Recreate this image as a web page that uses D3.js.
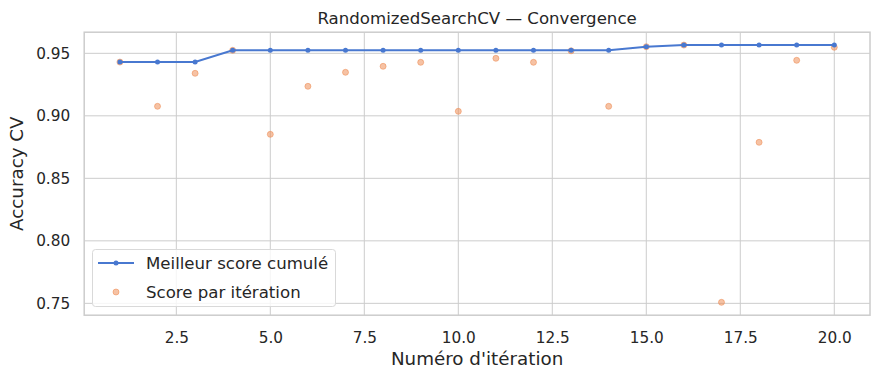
<!DOCTYPE html>
<html>
<head>
<meta charset="utf-8">
<script src="https://cdn.jsdelivr.net/npm/d3@7"></script>
<style>
  html, body { margin: 0; padding: 0; background: #fff; }
  svg { display: block; }
  text { font-family: "DejaVu Sans", sans-serif; fill: #262626; }
</style>
</head>
<body>
<svg id="chart" width="880" height="380"></svg>
<script>
const iterations = [1,2,3,4,5,6,7,8,9,10,11,12,13,14,15,16,17,18,19,20];
const iterScores = [0.943,0.9076,0.934,0.9524,0.8852,0.9236,0.9348,0.9396,0.9428,0.9036,
                    0.946,0.9428,0.952,0.9076,0.9553,0.9566,0.7508,0.8788,0.9444,0.9548];
const bestScores = [0.943,0.943,0.943,0.9524,0.9524,0.9524,0.9524,0.9524,0.9524,0.9524,
                    0.9524,0.9524,0.9524,0.9524,0.9553,0.9566,0.9566,0.9566,0.9566,0.9566];
const xTicks = [2.5,5.0,7.5,10.0,12.5,15.0,17.5,20.0];
const yTicks = [0.75,0.80,0.85,0.90,0.95];
const titleText = "RandomizedSearchCV — Convergence";
const xLabel = "Numéro d'itération";
const yLabel = "Accuracy CV";
const legendLabels = ["Meilleur score cumulé", "Score par itération"];

const svg = d3.select("#chart");
const L = 84.2, R = 870, T = 32.2, B = 315.2;
const blue = "#4878d0", orange = "#ee854a", grid = "#cccccc";

const xMin = d3.min(iterations), xMax = d3.max(iterations);
const xPad = (xMax - xMin) * 0.05;
const x = d3.scaleLinear().domain([xMin - xPad, xMax + xPad]).range([L, R]);
const allY = iterScores.concat(bestScores);
const yMin = d3.min(allY), yMax = d3.max(allY);
const yPad = (yMax - yMin) * 0.05;
const y = d3.scaleLinear().domain([yMin - yPad, yMax + yPad]).range([B, T]);

// grid
const g = svg.append("g");
g.selectAll(".vg").data(xTicks).enter().append("line")
  .attr("x1", d => x(d)).attr("x2", d => x(d)).attr("y1", T).attr("y2", B)
  .attr("stroke", grid).attr("stroke-width", 1);
g.selectAll(".hg").data(yTicks).enter().append("line")
  .attr("y1", d => y(d)).attr("y2", d => y(d)).attr("x1", L).attr("x2", R)
  .attr("stroke", grid).attr("stroke-width", 1);

// axes (labels only)
const xAxis = d3.axisBottom(x).tickValues(xTicks).tickFormat(d3.format(".1f")).tickSize(0).tickPadding(17);
const gx = svg.append("g").attr("transform", `translate(0,${B})`).call(xAxis);
gx.select(".domain").remove();
gx.selectAll("text").attr("font-size", "15.3px").attr("fill", "#262626")
  .attr("font-family", "DejaVu Sans, sans-serif");

const yAxis = d3.axisLeft(y).tickValues(yTicks).tickFormat(d3.format(".2f")).tickSize(0).tickPadding(14);
const gy = svg.append("g").attr("transform", `translate(${L},0)`).call(yAxis);
gy.select(".domain").remove();
gy.selectAll("text").attr("font-size", "15.3px").attr("fill", "#262626")
  .attr("font-family", "DejaVu Sans, sans-serif");

// frame
svg.append("rect").attr("x", L).attr("y", T).attr("width", R - L).attr("height", B - T)
  .attr("fill", "none").attr("stroke", grid).attr("stroke-width", 1.5);

// scatter
svg.append("g").selectAll("circle").data(iterations).enter().append("circle")
  .attr("cx", (d) => x(d)).attr("cy", (d, i) => y(iterScores[i])).attr("r", 3)
  .attr("fill", orange).attr("fill-opacity", 0.5)
  .attr("stroke", orange).attr("stroke-opacity", 0.5).attr("stroke-width", 1);

// best line
const line = d3.line().x((d, i) => x(iterations[i])).y(d => y(d));
svg.append("path").datum(bestScores).attr("d", line)
  .attr("fill", "none").attr("stroke", blue).attr("stroke-width", 2);
svg.append("g").selectAll("circle").data(bestScores).enter().append("circle")
  .attr("cx", (d, i) => x(iterations[i])).attr("cy", d => y(d)).attr("r", 2.5)
  .attr("fill", blue);

// title & labels
svg.append("text").attr("x", (L + R) / 2).attr("y", 24).attr("text-anchor", "middle")
  .attr("font-size", "16.6px").text(titleText);
svg.append("text").attr("x", (L + R) / 2).attr("y", 365).attr("text-anchor", "middle")
  .attr("font-size", "18.3px").text(xLabel);
svg.append("text").attr("transform", `translate(23,${(T + B) / 2}) rotate(-90)`)
  .attr("text-anchor", "middle").attr("font-size", "18.3px").text(yLabel);

// legend
const lg = svg.append("g");
lg.append("rect").attr("x", 92.5).attr("y", 249.5).attr("width", 243).attr("height", 57)
  .attr("rx", 3).attr("fill", "#ffffff").attr("fill-opacity", 0.8)
  .attr("stroke", "#d9d9d9").attr("stroke-width", 1);
lg.append("line").attr("x1", 98).attr("x2", 134).attr("y1", 263).attr("y2", 263)
  .attr("stroke", blue).attr("stroke-width", 2);
lg.append("circle").attr("cx", 116).attr("cy", 263).attr("r", 2.5).attr("fill", blue);
lg.append("circle").attr("cx", 116).attr("cy", 292).attr("r", 3)
  .attr("fill", orange).attr("fill-opacity", 0.5)
  .attr("stroke", orange).attr("stroke-opacity", 0.5).attr("stroke-width", 1);
lg.append("text").attr("x", 146).attr("y", 269).attr("font-size", "16.6px").text(legendLabels[0]);
lg.append("text").attr("x", 146).attr("y", 298).attr("font-size", "16.6px").text(legendLabels[1]);
</script>
</body>
</html>
